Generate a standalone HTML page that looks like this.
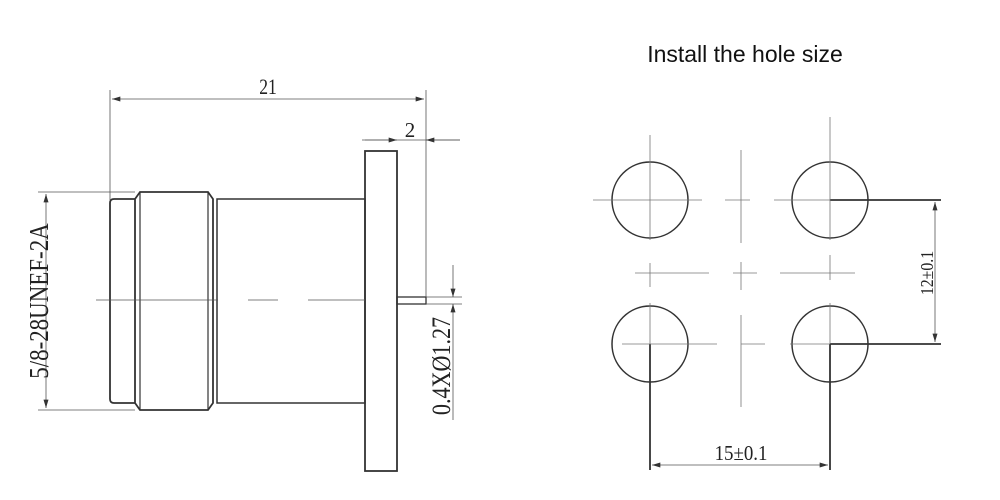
<!DOCTYPE html>
<html><head><style>body{margin:0;background:#fff}svg{display:block}</style></head><body>
<svg width="1000" height="500" viewBox="0 0 1000 500" xmlns="http://www.w3.org/2000/svg">
<defs><marker id="a" viewBox="0 0 10 6" refX="10" refY="3" markerWidth="14" markerHeight="5" orient="auto-start-reverse" markerUnits="userSpaceOnUse"><path d="M0,0L10,3L0,6z" fill="#333"/></marker></defs>
<text x="745" y="62" font-family="Liberation Sans, sans-serif" font-size="23" text-anchor="middle" fill="#111">Install the hole size</text>
<g stroke="#333" fill="none" stroke-width="1.8">
<rect x="365" y="151" width="32" height="320"/>
<rect x="217" y="199" width="148" height="204" stroke-width="1.5"/>
<path d="M140,192 L208,192 L213,199 L213,403 L208,410 L140,410 L135,403 L135,199 Z"/>
<path d="M140,192V410M208,192V410" stroke-width="1.2"/>
<path d="M135,199 H114 Q110,199 110,203 V399 Q110,403 114,403 H135"/>
<rect x="397" y="297" width="29" height="7" stroke-width="1.3"/>
</g>
<g stroke="#555" stroke-width="0.8" fill="none">
<path d="M96,300H218M248,300H278M308,300H365"/>
<path d="M110,90V200M426,90V297M38,192H135M38,410H135M362,140H460M426,297H462M426,304H462"/>
<path d="M112,99H424" marker-start="url(#a)" marker-end="url(#a)"/>
<path d="M365,140H397" marker-end="url(#a)"/>
<path d="M460,140H426" marker-end="url(#a)"/>
<path d="M46,194V408" marker-start="url(#a)" marker-end="url(#a)"/>
<path d="M453,265V297" marker-end="url(#a)"/>
<path d="M453,420V304" marker-end="url(#a)"/>
</g>
<g font-family="Liberation Serif, serif" fill="#222">
<text transform="translate(268,94) scale(0.8,1)" text-anchor="middle" font-size="22">21</text>
<text x="410" y="137" text-anchor="middle" font-size="21">2</text>
<text transform="translate(48,301) rotate(-90) scale(0.85,1)" text-anchor="middle" font-size="27">5/8-28UNEF-2A</text>
<text transform="translate(450,366) rotate(-90) scale(0.85,1)" text-anchor="middle" font-size="26">0.4XØ1.27</text>
<text transform="translate(933,273) rotate(-90) scale(0.88,1)" text-anchor="middle" font-size="18">12±0.1</text>
<text transform="translate(741,460) scale(0.9,1)" text-anchor="middle" font-size="21">15±0.1</text>
</g>
<g stroke="#333" stroke-width="1.5" fill="none">
<circle cx="650" cy="200" r="38"/><circle cx="830" cy="200" r="38"/>
<circle cx="650" cy="344" r="38"/><circle cx="830" cy="344" r="38"/>
<path d="M830,200H941M830,344H941M650,344V470M830,344V470" stroke-width="1.8"/>
</g>
<g stroke="#777" stroke-width="0.8" fill="none">
<path d="M650,135V240M593,200H702M741,150V243M725,200H750M830,117V240M774,200H830"/>
<path d="M635,273H709M733,273H757M780,273H855M650,263V287M741,262V290M830,255V280"/>
<path d="M650,303V344M622,344H717M741,315V407M741,344H765M790,344H830M830,303V344"/>
</g>
<g stroke="#555" stroke-width="0.8">
<path d="M935,202V342" marker-start="url(#a)" marker-end="url(#a)"/>
<path d="M652,465H828" marker-start="url(#a)" marker-end="url(#a)"/>
</g>
</svg>
</body></html>
